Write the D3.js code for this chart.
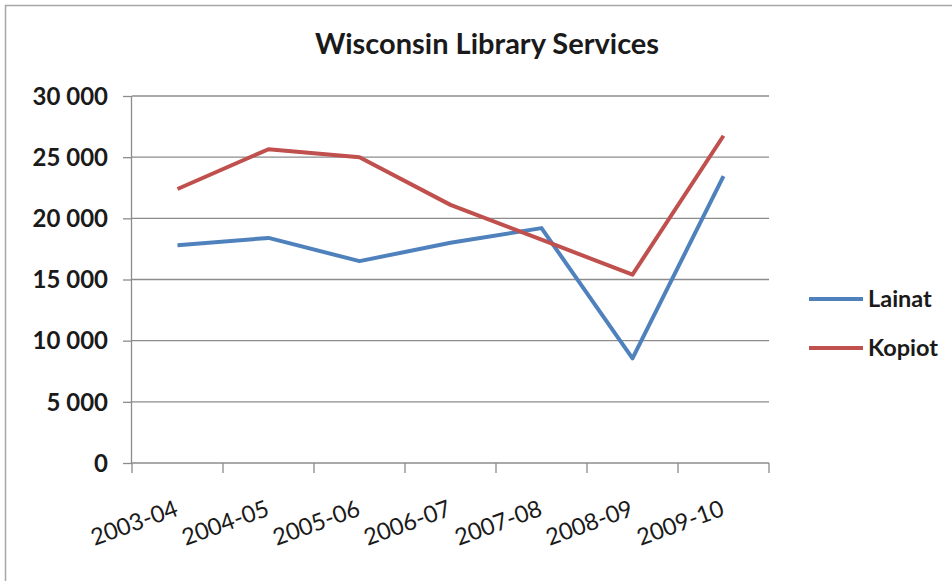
<!DOCTYPE html>
<html><head><meta charset="utf-8">
<script src="https://cdn.jsdelivr.net/npm/d3@7"></script>
<style>body{margin:0;background:#fff}svg{display:block}</style>
</head><body>
<svg id="c" width="952" height="581"></svg>
<script>
const categories = ["2003-04","2004-05","2005-06","2006-07","2007-08","2008-09","2009-10"];
const lainat = [17800, 18400, 16500, 18000, 19200, 8550, 23450];
const kopiot = [22400, 25650, 25000, 21100, 18250, 15400, 26750];
const yTicks = [0, 5000, 10000, 15000, 20000, 25000, 30000];
const seriesNames = ["Lainat", "Kopiot"];
const seriesColors = ["#4F81BD", "#C0504D"];
const title = "Wisconsin Library Services";

const svg = d3.select("#c");
const font = "Lato, 'Open Sans', sans-serif";

// frame
svg.append("path").attr("d","M5.5,590 V5.5 H960").attr("fill","none").attr("stroke","#a6a6a6").attr("stroke-width",1.5);

const L = 132, R = 769, T = 96, B = 463;
const x = d3.scaleBand().domain(categories).range([L, R]);
const y = d3.scaleLinear().domain([0, 30000]).range([B, T]);

// gridlines
svg.append("g").selectAll("line").data(yTicks.filter(v=>v>0)).join("line")
  .attr("x1", L).attr("x2", R).attr("y1", d=>y(d)).attr("y2", d=>y(d))
  .attr("stroke","#8c8c8c").attr("stroke-width",1.3);

// y axis
const ya = svg.append("g").attr("transform",`translate(${L},0)`)
  .call(d3.axisLeft(y).tickValues(yTicks).tickSize(9).tickPadding(15).tickFormat(v => v===0?"0":d3.format(",")(v).replace(/,/g," ")));
ya.select(".domain").attr("stroke","#8c8c8c").attr("stroke-width",1.3).attr("d",`M-0.5,${T}V${B}`);
ya.selectAll(".tick line").attr("stroke","#8c8c8c").attr("stroke-width",1.3);
ya.selectAll("text").attr("font-family",font).attr("font-size",24).attr("font-weight","bold").attr("fill","#1a1a1a").attr("dy","0.34em");

// x axis
const xa = svg.append("g").attr("transform",`translate(0,${B})`);
xa.append("line").attr("x1",L).attr("x2",R).attr("y1",0).attr("y2",0).attr("stroke","#8c8c8c").attr("stroke-width",1.3);
const bounds = categories.map(c=>x(c)).concat([R]);
xa.selectAll("line.tk").data(bounds).join("line").attr("class","tk")
  .attr("x1",d=>d).attr("x2",d=>d).attr("y1",0).attr("y2",10).attr("stroke","#8c8c8c").attr("stroke-width",1.3);
xa.selectAll("text").data(categories).join("text")
  .attr("transform", d=>`translate(${x(d)+x.bandwidth()/2+2},${52}) rotate(-20)`)
  .attr("text-anchor","end").attr("font-family",font).attr("font-size",23.5).attr("fill","#1a1a1a").text(d=>d);

// lines
const line = d3.line().x((d,i)=>x(categories[i])+x.bandwidth()/2).y(d=>y(d));
[lainat, kopiot].forEach((s,k)=>{
  svg.append("path").datum(s).attr("d",line).attr("fill","none")
    .attr("stroke",seriesColors[k]).attr("stroke-width",4).attr("stroke-linejoin","round");
});

// title
svg.append("text").attr("x",487).attr("y",54).attr("text-anchor","middle")
  .attr("font-family",font).attr("font-weight","bold").attr("font-size",29).attr("fill","#1a1a1a").text(title);

// legend
const lg = svg.append("g");
seriesNames.forEach((n,k)=>{
  const yy = 299 + k*49;
  lg.append("line").attr("x1",809).attr("x2",863).attr("y1",yy).attr("y2",yy)
    .attr("stroke",seriesColors[k]).attr("stroke-width",4);
  lg.append("text").attr("x",868).attr("y",yy+8).attr("font-family",font).attr("font-weight","bold")
    .attr("font-size",23.5).attr("fill","#1a1a1a").text(n);
});
</script>
</body></html>
